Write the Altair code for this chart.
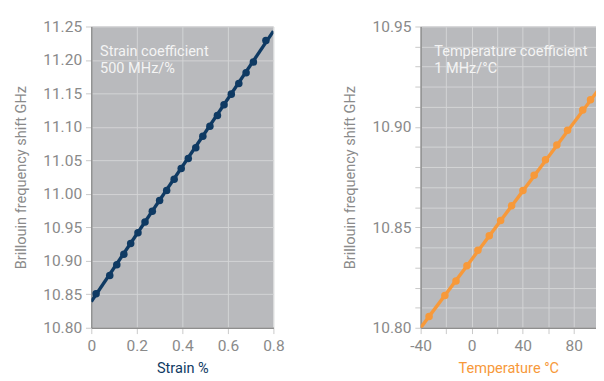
import altair as alt
import pandas as pd

# Strain panel
strain_pts = [0.021, 0.081, 0.112, 0.143, 0.173, 0.205, 0.236, 0.268, 0.300, 0.331,
              0.364, 0.395, 0.426, 0.459, 0.490, 0.521, 0.554, 0.583, 0.615, 0.648,
              0.680, 0.712, 0.767]
strain_ghz = [10.851, 10.878, 10.894, 10.910, 10.926, 10.942, 10.958, 10.974, 10.990, 11.005,
              11.022, 11.038, 11.053, 11.069, 11.086, 11.101, 11.117, 11.133, 11.149, 11.165,
              11.181, 11.197, 11.229]
strain_fit_x = [0.0, 0.8]
strain_fit_y = [10.839, 11.243]

# Temperature panel
temp_pts = [-33.4, -21.0, -12.3, -3.7, 4.9, 13.8, 22.7, 31.3, 40.2, 49.0, 57.9, 66.8, 75.2, 87.1, 93.2]
temp_ghz = [10.8056, 10.8161, 10.8233, 10.8309, 10.8386, 10.8458, 10.8534, 10.8608, 10.8683,
            10.8759, 10.8836, 10.8910, 10.8984, 10.9084, 10.9135]
temp_fit_x = [-40, 120]
temp_fit_y = [10.800, 10.936]

strain_ticks = [0, 0.2, 0.4, 0.6, 0.8]
strain_yticks = [10.80, 10.85, 10.90, 10.95, 11.00, 11.05, 11.10, 11.15, 11.20, 11.25]
temp_ticks = [-40, -20, 0, 20, 40, 60, 80]
temp_yticks = [round(10.80 + 0.01 * i, 2) for i in range(16)]

NAVY = "#0f3a63"
ORANGE = "#f7993a"
FONT = "Liberation Sans Narrow, Roboto, Liberation Sans, sans-serif"

s_pts = pd.DataFrame({"x": strain_pts, "y": strain_ghz})
s_fit = pd.DataFrame({"x": strain_fit_x, "y": strain_fit_y})
t_pts = pd.DataFrame({"x": temp_pts, "y": temp_ghz})
t_fit = pd.DataFrame({"x": temp_fit_x, "y": temp_fit_y})

ytitle = "Brillouin frequency shift GHz"

sx = alt.X("x:Q", scale=alt.Scale(domain=[0, 0.8], nice=False),
           axis=alt.Axis(values=strain_ticks, title="Strain %", titleColor=NAVY,
                         labelExpr="datum.value == 0 ? '0' : format(datum.value, '.1f')"))
sy = alt.Y("y:Q", scale=alt.Scale(domain=[10.80, 11.25], nice=False, zero=False),
           axis=alt.Axis(values=strain_yticks, format=".2f", title=ytitle))

left_line = alt.Chart(s_fit).mark_line(color=NAVY, strokeWidth=3.5, clip=True).encode(x=sx, y=sy)
left_pts = alt.Chart(s_pts).mark_circle(color=NAVY, size=60, opacity=1).encode(x=sx, y=sy)
left_txt1 = alt.Chart(pd.DataFrame({"t": ["Strain coefficient"]})).mark_text(
    align="left", baseline="top", color="#f4f4f4", fontSize=15, font=FONT
).encode(text="t:N", x=alt.value(9), y=alt.value(18))
left_txt2 = alt.Chart(pd.DataFrame({"t": ["500 MHz/%"]})).mark_text(
    align="left", baseline="top", color="#f4f4f4", fontSize=15, font=FONT
).encode(text="t:N", x=alt.value(9), y=alt.value(36))
left = alt.layer(left_line, left_pts, left_txt1, left_txt2).properties(width=188, height=311)

tx = alt.X("x:Q", scale=alt.Scale(domain=[-40, 97.5], nice=False),
           axis=alt.Axis(values=temp_ticks, title="Temperature °C", titleColor=ORANGE,
                         labelExpr="datum.value % 40 == 0 ? '' + datum.value : ''"))
ty = alt.Y("y:Q", scale=alt.Scale(domain=[10.80, 10.95], nice=False, zero=False),
           axis=alt.Axis(values=temp_yticks, title=ytitle,
                         labelExpr="abs(round(datum.value * 100)) % 5 == 0 ? format(datum.value, '.2f') : ''"))

right_line = alt.Chart(t_fit).mark_line(color=ORANGE, strokeWidth=3.5, clip=True).encode(x=tx, y=ty)
right_pts = alt.Chart(t_pts).mark_circle(color=ORANGE, size=60, opacity=1, clip=True).encode(x=tx, y=ty)
right_txt1 = alt.Chart(pd.DataFrame({"t": ["Temperature coefficient"]})).mark_text(
    align="left", baseline="top", color="#f4f4f4", fontSize=15, font=FONT
).encode(text="t:N", x=alt.value(14), y=alt.value(18))
right_txt2 = alt.Chart(pd.DataFrame({"t": ["1 MHz/°C"]})).mark_text(
    align="left", baseline="top", color="#f4f4f4", fontSize=15, font=FONT
).encode(text="t:N", x=alt.value(14), y=alt.value(36))
right = alt.layer(right_line, right_pts, right_txt1, right_txt2).properties(width=181, height=311)

chart = alt.hconcat(left, right, spacing=152, bounds="flush").properties(
    padding={"left": 5, "top": 5, "right": 0, "bottom": 5}
).configure_view(
    fill="#b9babd", stroke=None
).configure_axis(
    labelFont=FONT, titleFont=FONT, labelFontSize=16, titleFontSize=15,
    labelColor="#8a8a8a", titleColor="#8a8a8a", titleFontWeight="normal",
    gridColor="#d3d4d6", gridWidth=1, gridOpacity=1,
    tickColor="#c8c8c8", tickSize=6, domainColor="#8e8e8e", domainWidth=1.5,
    labelPadding=4, labelFlush=False
).configure_axisY(
    titlePadding=15
).configure_axisX(
    titlePadding=8
)

chart.save("out.html", embed_options={"renderer": "svg", "actions": False})
